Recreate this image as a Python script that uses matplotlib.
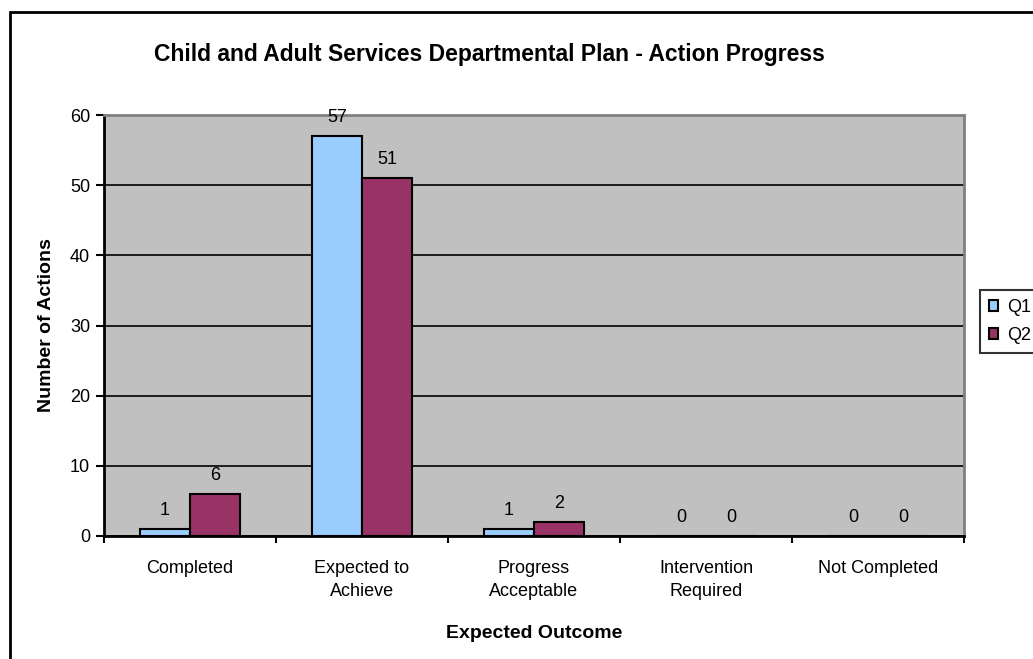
import numpy as np
import matplotlib
matplotlib.use("Agg")
import matplotlib.pyplot as plt
from matplotlib.patches import Rectangle

plt.rcParams['font.family'] = ['Liberation Sans', 'DejaVu Sans']

# dados do gráfico
categorias = ["Completed", "Expected to\nAchieve", "Progress\nAcceptable",
              "Intervention\nRequired", "Not Completed"]
q1 = [1, 57, 1, 0, 0]
q2 = [6, 51, 2, 0, 0]
series = ["Q1", "Q2"]
cores = ["#99CCFF", "#993366"]

fig = plt.figure(figsize=(10.33, 6.59), dpi=100)
ax = fig.add_axes([104/1033, 1 - 536/659, (964 - 104)/1033, (536 - 115)/659])

x = np.arange(len(categorias))
w = 0.29
barras1 = ax.bar(x - w/2, q1, w, color=cores[0], edgecolor="black", linewidth=1.5, label=series[0], zorder=3)
barras2 = ax.bar(x + w/2, q2, w, color=cores[1], edgecolor="black", linewidth=1.5, label=series[1], zorder=3)

# rótulos dos valores
for barras in (barras1, barras2):
    for b in barras:
        ax.annotate(f"{int(b.get_height())}", (b.get_x() + b.get_width()/2, b.get_height()),
                    xytext=(0, 7), textcoords="offset points", ha="center", va="bottom",
                    fontsize=13, annotation_clip=False)

ax.set_facecolor("#C0C0C0")
ax.set_xlim(-0.5, len(categorias) - 0.5)
ax.set_ylim(0, 60)
ax.set_yticks(np.arange(0, 61, 10))
ax.yaxis.grid(True, color="black", linewidth=1.2)
ax.set_axisbelow(True)

ax.set_xticks(x)
ax.set_xticklabels(categorias, fontsize=13, linespacing=1.5)
ax.set_xticks(np.arange(-0.5, len(categorias)), minor=True)
ax.tick_params(axis="x", which="major", length=0, pad=17)
ax.tick_params(axis="x", which="minor", length=5, width=1.5, direction="out")
ax.tick_params(axis="y", length=6, width=1.5, labelsize=13, pad=4)

for lado in ("top", "right"):
    ax.spines[lado].set_color("#808080")
    ax.spines[lado].set_linewidth(2)
for lado in ("left", "bottom"):
    ax.spines[lado].set_linewidth(2)

ax.set_ylabel("Number of Actions", fontsize=14, fontweight="bold", labelpad=11)
ax.set_xlabel("Expected Outcome", fontsize=14, fontweight="bold", labelpad=18)

fig.text(489/1033, 1 - 55/659, "Child and Adult Services Departmental Plan - Action Progress",
         ha="center", va="center", fontsize=16.5, fontweight="bold")

# legenda (cortada na borda direita, como no original)
leg = fig.legend(loc="upper left", bbox_to_anchor=(980/1033, 1 - 290/659), fontsize=13,
                 frameon=True, fancybox=False, edgecolor="black", handlelength=0.5,
                 handleheight=0.5, handletextpad=0.5, borderpad=0.5, labelspacing=0.6,
                 borderaxespad=0)
leg.get_frame().set_linewidth(1.5)

# moldura da figura
fig.patches.append(Rectangle((10/1033, -0.1), 1.2, 1.1 - 12/659, transform=fig.transFigure,
                             fill=False, edgecolor="black", linewidth=2))

fig.savefig("out.png", dpi=100)
